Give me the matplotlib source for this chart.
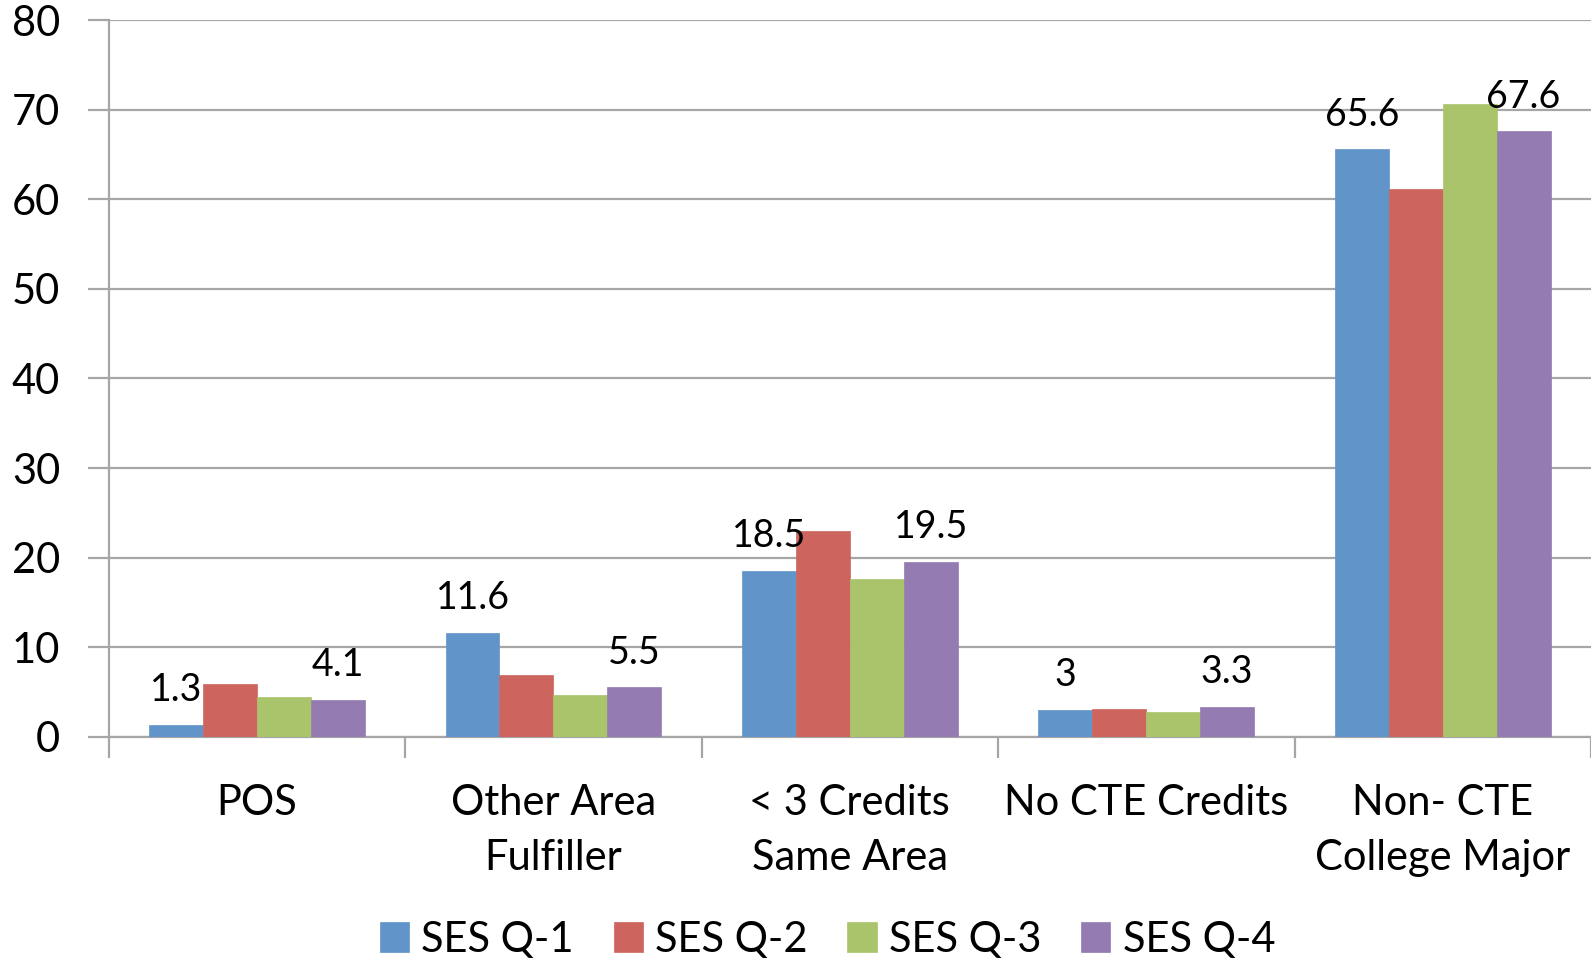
import numpy as np
import matplotlib.pyplot as plt

# data
categories = ["POS", "Other Area\nFulfiller", "< 3 Credits\nSame Area",
              "No CTE Credits", "Non- CTE\nCollege Major"]
series_names = ["SES Q-1", "SES Q-2", "SES Q-3", "SES Q-4"]
q1 = [1.3, 11.6, 18.5, 3.0, 65.6]
q2 = [5.9, 6.9, 23.0, 3.1, 61.2]
q3 = [4.4, 4.7, 17.6, 2.8, 70.6]
q4 = [4.1, 5.5, 19.5, 3.3, 67.6]
label_text = {0: ["1.3", "11.6", "18.5", "3", "65.6"],
              3: ["4.1", "5.5", "19.5", "3.3", "67.6"]}
y_ticks = [0, 10, 20, 30, 40, 50, 60, 70, 80]

colors = ["#6195C9", "#CD655E", "#AAC46C", "#947BB1"]
grid_c = "#A6A6A6"

plt.rcParams['font.family'] = ['Lato', 'DejaVu Sans']

fig = plt.figure(figsize=(15.91, 9.64), dpi=100)
ax = fig.add_axes([0.0683, 0.2358, 0.9317, 0.7432])

x = np.arange(len(categories))
w = 1 / 5.5
values = [q1, q2, q3, q4]
for i, (vals, c) in enumerate(zip(values, colors)):
    pos = x + (i - 1.5) * w
    ax.bar(pos, vals, width=w, color=c, edgecolor=c, linewidth=0.5,
           label=series_names[i], zorder=3)
    if i in label_text:
        for px, v, t in zip(pos, vals, label_text[i]):
            ax.annotate(t, (px, v), xytext=(0, 12), textcoords="offset points",
                        ha="center", va="bottom", fontsize=27, zorder=4)

ax.set_ylim(0, 80)
ax.set_xlim(-0.5, len(categories) - 0.5)
ax.set_yticks(y_ticks)
ax.yaxis.grid(True, color=grid_c, linewidth=1.6, zorder=0)
ax.set_axisbelow(True)

# category boundaries as tick marks, names in the middle
ax.set_xticks(np.arange(len(categories) + 1) - 0.5)
ax.set_xticklabels([])
ax.set_xticks(x, minor=True)
ax.set_xticklabels(categories, minor=True, fontsize=30, linespacing=1.55)
ax.tick_params(axis="x", which="minor", length=0, pad=34)
ax.tick_params(axis="x", which="major", length=15, width=1.6, color=grid_c)
ax.tick_params(axis="y", length=15, width=1.6, color=grid_c, labelsize=30, pad=20)

for s in ["top", "right"]:
    ax.spines[s].set_visible(False)
for s in ["left", "bottom"]:
    ax.spines[s].set_color(grid_c)
    ax.spines[s].set_linewidth(1.6)

ax.legend(loc="lower center", bbox_to_anchor=(0.485, -0.333), ncol=4,
          frameon=False, fontsize=30, handlelength=0.7, handleheight=0.7,
          handletextpad=0.3, columnspacing=0.95, borderaxespad=0)

fig.savefig("out.png", dpi=100)
